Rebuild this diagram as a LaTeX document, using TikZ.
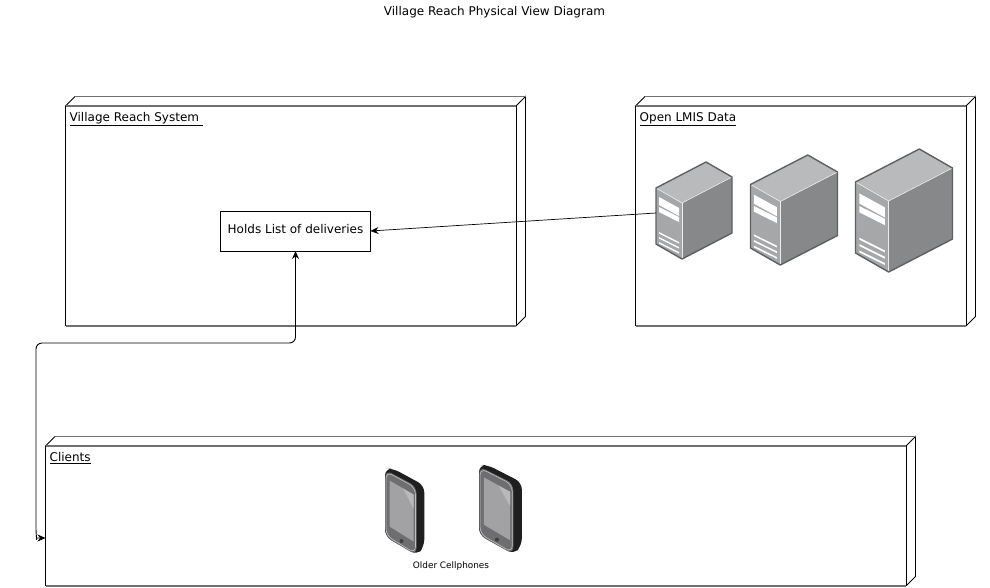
\documentclass[tikz,border=0pt]{standalone}
\usepackage{fontspec}
\setmainfont{DejaVu Sans}
\usetikzlibrary{arrows.meta}
\definecolor{srvtop}{HTML}{B9BABB}
\definecolor{srvfront}{HTML}{A6A7A9}
\definecolor{srvside}{HTML}{87888A}
\definecolor{srvedge}{HTML}{5F6062}
\definecolor{phonedark}{HTML}{1F1F1F}
\definecolor{phoneface}{HTML}{6E6E70}
\definecolor{phonescreen}{HTML}{A2A2A4}
\definecolor{frameh}{HTML}{707070}
\tikzset{
  frameline/.style={draw=black,line width=0.9pt},
  framehline/.style={draw=frameh,line width=1.6pt},
  framebox/.style={anchor=north west,inner sep=0pt,outer sep=0pt,fill=white},
  framelabel/.style={anchor=base west,inner sep=0pt,font=\fontsize{12}{14}\selectfont},
  boxnode/.style={draw=black,line width=1pt,minimum width=150pt,minimum height=40pt,inner sep=0pt,outer sep=0pt,text height=7pt,text depth=2pt,font=\fontsize{12}{14}\selectfont},
  conn/.style={draw=black,line width=0.9pt,{Stealth[length=8pt,width=7pt]}-{Stealth[length=8pt,width=7pt]}},
  connone/.style={draw=black,line width=0.7pt,-{Stealth[length=8pt,width=7pt]}},
  titletext/.style={inner sep=0pt,font=\fontsize{12}{14}\selectfont},
  captiontext/.style={inner sep=0pt,font=\fontsize{8.9}{10}\selectfont}
}
\newcommand{\frameshape}[7]{% name, x, y, w, h, depth, label
  \node[framebox,minimum width=#4pt,minimum height=#5pt] (#1) at (#2,#3) {};
  \draw[frameline] (#1.north west) -- (#1.south west);
  \draw[frameline] (#1.north east) -- (#1.south east);
  \draw[frameline] (#1.north west) -- ++(#6,-#6);
  \draw[frameline] (#1.north east) -- ++(#6,-#6) -- ++(0,#5) -- (#1.south east);
  \draw[framehline] (#1.north west) -- (#1.north east);
  \draw[framehline] (#1.south west) -- (#1.south east);
  \draw[framehline] ([shift={(#6,-#6)}]#1.north west) -- ([shift={(#6,-#6)}]#1.north east);
  \node[framelabel] (#1label) at (#2+4,#3+15.5) {\underline{#7}};
}
\newcommand{\serverbox}[4]{% x,y,xs,ys  base 76x97
  \begin{scope}[shift={(#1,#2)},xscale=#3,yscale=#4]
    \fill[srvtop] (0,26) -- (50,0) -- (76,15) -- (26,41) -- cycle;
    \fill[srvfront] (0,26) -- (26,41) -- (26,97) -- (0,82) -- cycle;
    \fill[srvside] (26,41) -- (76,15) -- (76,71) -- (26,97) -- cycle;
    \draw[white!80!srvfront,line width=0.6pt] (0,26) -- (26,41) -- (76,15);
    \draw[white!80!srvfront,line width=0.6pt] (26,41) -- (26,97);
    \fill[white] (3,35) -- (23,46) -- (23,54) -- (3,43) -- cycle;
    \fill[white] (3,45) -- (23,55) -- (23,60) -- (3,50) -- cycle;
    \foreach \yy in {70,75,80,85}
      \fill[white] (3,\yy) -- (23,\yy+10) -- (23,\yy+11.5) -- (3,\yy+1.5) -- cycle;
    \draw[srvedge,line width=1.4pt,line join=round] (0,26) -- (50,0) -- (76,15) -- (76,71) -- (26,97) -- (0,82) -- cycle;
  \end{scope}
}
\newcommand{\phonebox}[4]{% x,y,xs,ys in base 39.3x86.7 (thirds)
  \begin{scope}[shift={(#1,#2)},xscale=#3,yscale=#4]
    \fill[phonedark,rounded corners=7pt] (0,0) -- (8,0) -- (39.3,17) -- (39.3,78) -- (32,86.7) -- (0,68) -- cycle;
    \fill[phoneface,rounded corners=7pt] (0.3,1.5) -- (31.5,18) -- (31.5,86.5) -- (0.3,68) -- cycle;
    \draw[white!75!black,line width=0.6pt,rounded corners=7pt] (1,3) -- (30.5,19) -- (30.5,85) -- (1,67) -- cycle;
    \fill[phonescreen] (4.5,12) -- (28.5,26) -- (28.5,73) -- (4.5,58) -- cycle;
    \fill[white!25!phonescreen] (18,20) -- (28.5,26) -- (28.5,40) -- cycle;
    \fill[black!75] (16.5,72.5) circle[radius=2pt];
  \end{scope}
}
\begin{document}
\begin{tikzpicture}[x=1pt,y=-1pt]
\useasboundingbox (0,0) rectangle (990,587);
\node[titletext] (title) at (494.5,12.5) {Village Reach Physical View Diagram};

\frameshape{vrs}{65.5}{106}{450.5}{220}{9.5}{Village Reach System\ }
\frameshape{lmis}{635.5}{106}{330.5}{220}{9.5}{Open LMIS Data}
\frameshape{clients}{45.5}{446}{860.5}{140}{9.5}{Clients}

\serverbox{656}{162}{1}{1}
\serverbox{750.5}{155}{1.145}{1.134}
\serverbox{855.5}{149}{1.276}{1.268}
\coordinate (srvport) at (656,213);

\phonebox{385}{468.5}{1}{1}
\phonebox{479}{465}{1.09}{1.03}
\node[captiontext] (phones) at (451,566.5) {Older Cellphones};

\node[boxnode] (holds) at (295.5,231) {Holds List of deliveries};

\coordinate (clientsport) at (45.5,538);
\draw[connone] (srvport) -- (holds.east);
\draw[conn,rounded corners=6pt] (holds.south) -- (295.5,343) -- (36,343) -- (36,534) [sharp corners] -- (36.5,538) -- (clientsport);
\end{tikzpicture}
\end{document}
